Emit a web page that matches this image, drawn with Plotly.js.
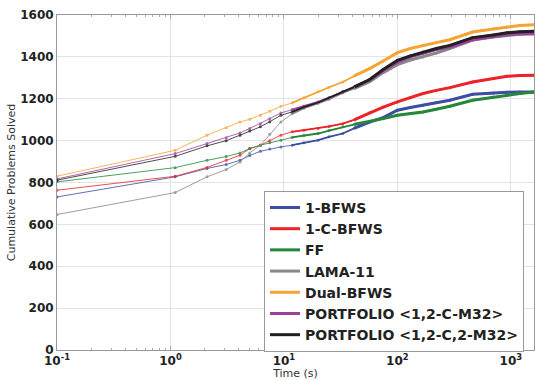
<!DOCTYPE html>
<html>
<head>
<meta charset="utf-8">
<script src="https://cdn.plot.ly/plotly-3.0.1.min.js"></script>
<style>html,body{margin:0;padding:0;background:#fff;}#chart{width:535px;height:380px;}</style>
</head>
<body>
<div id="chart"></div>
<script>
// Time points (s)
const times = [0.1, 1.1, 2.1, 3.1, 4.1, 5, 6.2, 7.5, 9.4, 11.8, 15, 20, 25, 33, 42, 57, 75, 100, 130, 168, 220, 290, 460, 700, 925, 1200, 1600];

// Cumulative problems solved per planner
const bfws1      = [731, 827, 867, 886, 906, 929, 949, 960, 970, 978, 990, 1002, 1018, 1034, 1060, 1089, 1110, 1145, 1158, 1169, 1182, 1193, 1221, 1228, 1231, 1232, 1232];
const cbfws1     = [763, 830, 872, 906, 930, 962, 978, 1000, 1026, 1042, 1050, 1058, 1068, 1081, 1100, 1133, 1160, 1185, 1205, 1225, 1240, 1253, 1280, 1297, 1307, 1311, 1312];
const ff         = [803, 871, 906, 924, 941, 962, 978, 990, 1002, 1015, 1025, 1034, 1048, 1066, 1078, 1091, 1105, 1121, 1130, 1137, 1150, 1164, 1193, 1208, 1217, 1225, 1232];
const lama11     = [647, 752, 827, 862, 898, 941, 978, 1030, 1089, 1128, 1155, 1178, 1198, 1228, 1250, 1282, 1325, 1363, 1385, 1400, 1418, 1440, 1480, 1495, 1503, 1508, 1510];
const dualBfws   = [830, 954, 1026, 1061, 1089, 1102, 1121, 1140, 1164, 1180, 1205, 1233, 1255, 1280, 1310, 1344, 1380, 1420, 1440, 1455, 1468, 1482, 1519, 1533, 1543, 1550, 1553];
const portfolioA = [817, 938, 986, 1014, 1037, 1058, 1081, 1105, 1132, 1148, 1165, 1185, 1205, 1233, 1258, 1290, 1335, 1375, 1400, 1418, 1435, 1447, 1482, 1497, 1506, 1510, 1511];
const portfolioB = [811, 925, 975, 1000, 1026, 1046, 1066, 1090, 1121, 1137, 1160, 1182, 1203, 1233, 1257, 1292, 1340, 1383, 1405, 1423, 1440, 1455, 1492, 1505, 1515, 1520, 1522];

const names = ['1-BFWS', '1-C-BFWS', 'FF', 'LAMA-11', 'Dual-BFWS', 'PORTFOLIO &lt;1,2-C-M32&gt;', 'PORTFOLIO &lt;1,2-C,2-M32&gt;'];
const seriesList = [bfws1, cbfws1, ff, lama11, dualBfws, portfolioA, portfolioB];
const colors = ['#3b4ea3', '#ec2327', '#25873b', '#888888', '#f5a431', '#9a3f9e', '#231f20'];

const tickVals = [0.1, 1, 10, 100, 1000];
const tickText = ['10<sup>-1</sup>', '10<sup>0</sup>', '10<sup>1</sup>', '10<sup>2</sup>', '10<sup>3</sup>'];

const traces = [];
// thin lines with small markers over the whole range
seriesList.forEach((ys, i) => {
  traces.push({
    x: times, y: ys, type: 'scatter', mode: 'lines+markers',
    line: {color: colors[i], width: 1}, marker: {color: colors[i], size: 3},
    opacity: 0.8, showlegend: false, hoverinfo: 'skip'
  });
});
// medium part (denser points)
const midIdx = times.findIndex(t => t >= 11.8);
seriesList.forEach((ys, i) => {
  traces.push({
    x: times.slice(midIdx), y: ys.slice(midIdx), type: 'scatter', mode: 'lines',
    line: {color: colors[i], width: 1.8}, showlegend: false, hoverinfo: 'skip'
  });
});
// dense (thick) part, also used for legend
const startIdx = times.findIndex(t => t >= 42);
seriesList.forEach((ys, i) => {
  traces.push({
    x: times.slice(startIdx), y: ys.slice(startIdx), type: 'scatter', mode: 'lines',
    name: names[i], line: {color: colors[i], width: 3}
  });
});

const layout = {
  width: 535, height: 380,
  margin: {l: 57, r: 1, t: 15, b: 30},
  paper_bgcolor: '#fff', plot_bgcolor: '#fff',
  font: {family: 'DejaVu Sans', color: '#222'},
  xaxis: {
    type: 'log', range: [-1, Math.log10(1600)],
    tickvals: tickVals, ticktext: tickText,
    tickfont: {family: 'DejaVu Sans', size: 12, weight: 'bold', color: '#222'},
    showgrid: true, gridcolor: '#e3e3e3', gridwidth: 1,
    showline: true, linecolor: '#999', linewidth: 1, mirror: 'ticks',
    ticks: 'inside', ticklen: 4, tickcolor: '#aaa',
    minor: {ticks: 'inside', ticklen: 2, tickcolor: '#aaa', dtick: 'D1', showgrid: false},
    zeroline: false,
    title: {text: 'Time (s)', font: {family: 'DejaVu Sans', size: 11, color: '#333'}, standoff: 2}
  },
  yaxis: {
    range: [0, 1600], dtick: 200,
    tickfont: {family: 'DejaVu Sans', size: 12, weight: 'bold', color: '#222'},
    showgrid: true, gridcolor: '#e3e3e3', gridwidth: 1,
    showline: true, linecolor: '#999', linewidth: 1, mirror: true,
    ticks: '', zeroline: false,
    title: {text: 'Cumulative Problems Solved', font: {family: 'DejaVu Sans', size: 11, color: '#333'}, standoff: 2}
  },
  legend: {
    x: 0.434, y: 0.475, xanchor: 'left', yanchor: 'top',
    bgcolor: '#fff', bordercolor: '#999', borderwidth: 1,
    font: {family: 'DejaVu Sans', size: 14, weight: 'bold', color: '#222'},
    tracegroupgap: 0
  }
};

Plotly.newPlot('chart', traces, layout, {displayModeBar: false, staticPlot: true});
</script>
</body>
</html>
